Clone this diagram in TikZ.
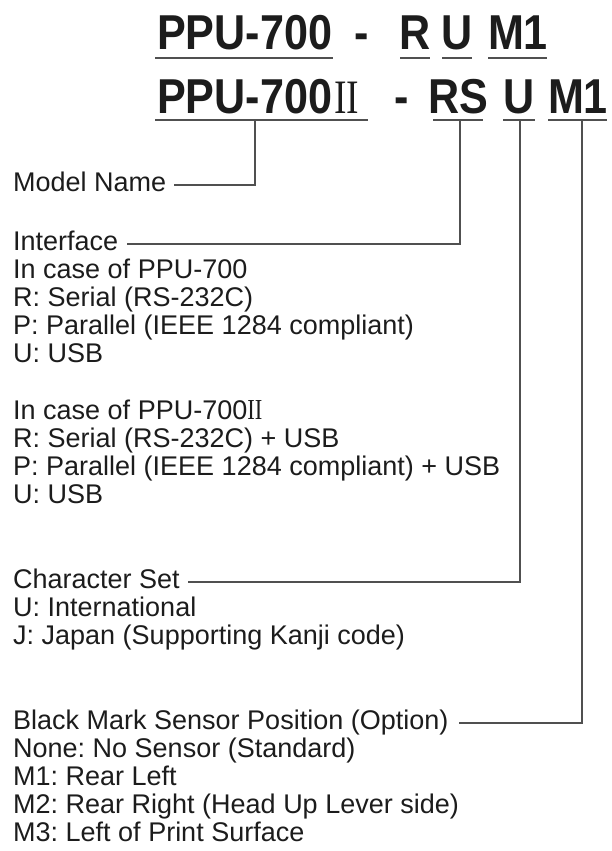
\documentclass[tikz,border=0pt]{standalone}
\usepackage{fontspec}
\setmainfont{Liberation Sans}
\newfontfamily\titlefont{Liberation Sans}[UprightFont=* Bold, FakeStretch=0.88]
\newfontfamily\romanfont{Liberation Serif}[FakeStretch=0.78]
\definecolor{ink}{HTML}{1C1C1C}
\definecolor{leadgray}{HTML}{505050}
\tikzset{
  titletext/.style={inner sep=0pt, anchor=base, text=ink, font=\titlefont\fontsize{49}{49}\selectfont},
  bodytext/.style={inner sep=0pt, anchor=base west, text=ink, font=\fontsize{27}{28}\selectfont\frenchspacing},
  uline/.style={draw=leadgray, line width=1.6pt},
  lead/.style={draw=leadgray, line width=1.5pt}
}
\newcommand{\romII}[1]{{\romanfont\fontsize{#1}{#1}\selectfont II}}
\frenchspacing
\begin{document}
\begin{tikzpicture}[x=1pt,y=-1pt]
\useasboundingbox (0,0) rectangle (612,851);
% title line 1
\node[titletext, anchor=base west] (t1) at (157,50) {PPU-700};
\node[titletext] (d1) at (362,50) {-};
\node[titletext] (r1) at (415,50) {R};
\node[titletext] (u1) at (457,50) {U};
\node[titletext] (m1) at (518,50) {M1};
% title line 2
\node[titletext, anchor=base west] (t2) at (157,113) {PPU-700\kern2pt\romII{48}};
\node[titletext] (d2) at (402,113) {-};
\node[titletext] (rs2) at (458,113) {RS};
\node[titletext] (u2) at (519,113) {U};
\node[titletext] (mm2) at (578,113) {M1};
% underlines
\draw[uline] (155,58) -- (333,58);
\draw[uline] (400,58) -- (430,58);
\draw[uline] (442,58) -- (472,58);
\draw[uline] (488,58) -- (547,58);
\draw[uline] (155,120) -- (368,120);
\draw[uline] (433,120) -- (483,120);
\draw[uline] (503,120) -- (535,120);
\draw[uline] (548,120) -- (607,120);
\coordinate (cModel) at (255,120);
\coordinate (cIf) at (460,120);
\coordinate (cCs) at (520,120);
\coordinate (cBm) at (582,120);
% labels
\node[bodytext] (model) at (13,191) {Model Name};
\node[bodytext] (iface) at (13,250) {Interface};
\node[bodytext] (i1) at (13,278) {In case of PPU-700};
\node[bodytext] (i2) at (13,306) {R: Serial (RS-232C)};
\node[bodytext] (i3) at (13,334) {P: Parallel (IEEE 1284 compliant)};
\node[bodytext] (i4) at (13,362) {U: USB};
\node[bodytext] (i5) at (13,419) {In case of PPU-700\romII{29}};
\node[bodytext] (i6) at (13,447) {R: Serial (RS-232C) + USB};
\node[bodytext] (i7) at (13,475) {P: Parallel (IEEE 1284 compliant) + USB};
\node[bodytext] (i8) at (13,503) {U: USB};
\node[bodytext] (cset) at (13,588) {Character Set};
\node[bodytext] (c1) at (13,616) {U: International};
\node[bodytext] (c2) at (13,644) {J: Japan (Supporting Kanji code)};
\node[bodytext] (bm) at (13,729) {Black Mark Sensor Position (Option)};
\node[bodytext] (b1) at (13,757) {None: No Sensor (Standard)};
\node[bodytext] (b2) at (13,785) {M1: Rear Left};
\node[bodytext] (b3) at (13,813) {M2: Rear Right (Head Up Lever side)};
\node[bodytext] (b4) at (13,841) {M3: Left of Print Surface};
% leaders
\draw[lead] (cModel) |- ([xshift=8pt,yshift=6pt]model.base east);
\draw[lead] (cIf) |- ([xshift=9pt,yshift=6pt]iface.base east);
\draw[lead] (cCs) |- ([xshift=8pt,yshift=6pt]cset.base east);
\draw[lead] (cBm) |- ([xshift=10pt,yshift=6pt]bm.base east);
\end{tikzpicture}
\end{document}
